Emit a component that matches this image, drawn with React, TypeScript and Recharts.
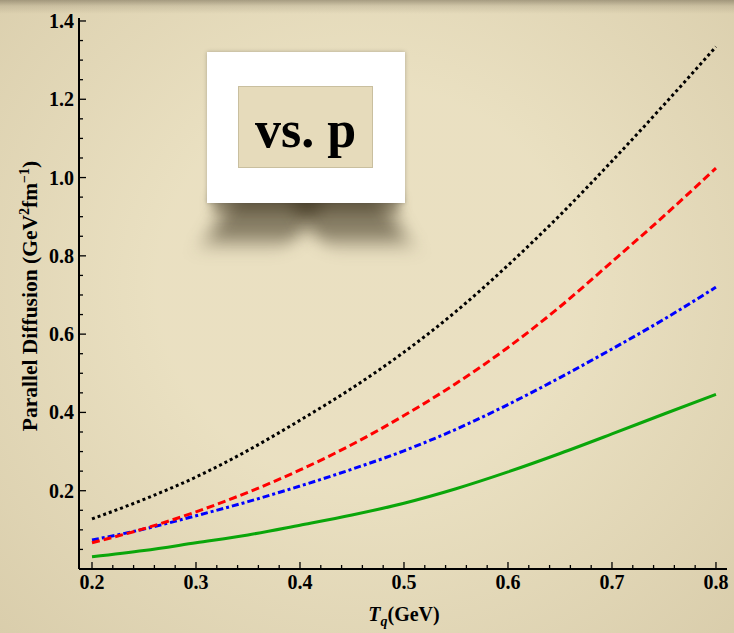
import React from 'react';
import { LineChart, Line, XAxis, YAxis } from 'recharts';

const temps = [0.2, 0.25, 0.3, 0.35, 0.4, 0.45, 0.5, 0.55, 0.6, 0.65, 0.7, 0.75, 0.8];
const blackVals = [0.128, 0.178, 0.235, 0.303, 0.38, 0.462, 0.554, 0.658, 0.776, 0.904, 1.042, 1.186, 1.334];
const redVals = [0.067, 0.103, 0.146, 0.196, 0.253, 0.318, 0.392, 0.474, 0.566, 0.67, 0.785, 0.902, 1.024];
const blueVals = [0.074, 0.102, 0.136, 0.172, 0.212, 0.255, 0.302, 0.357, 0.42, 0.489, 0.562, 0.638, 0.72];
const greenVals = [0.031, 0.047, 0.067, 0.087, 0.112, 0.138, 0.168, 0.205, 0.248, 0.295, 0.345, 0.396, 0.446];

const xMajor = [0.2, 0.3, 0.4, 0.5, 0.6, 0.7, 0.8];
const yMajor = [0.2, 0.4, 0.6, 0.8, 1.0, 1.2, 1.4];
const xTicks = Array.from({ length: 31 }, (_, i) => Math.round(20 + i * 2) / 100);
const yTicks = Array.from({ length: 29 }, (_, i) => Math.round(i * 5) / 100);

const data = temps.map((t, i) => ({
  T: t,
  black: blackVals[i],
  red: redVals[i],
  blue: blueVals[i],
  green: greenVals[i],
}));

const isIn = (v: number, arr: number[]) => arr.some((a) => Math.abs(a - v) < 1e-6);
const FONT = '"Liberation Serif", "Times New Roman", serif';

const BottomTick = (p: any) => {
  const { x, y, payload } = p;
  const v = payload.value;
  const major = isIn(v, xMajor);
  return (
    <g>
      <line x1={x} x2={x} y1={y} y2={y - (major ? 7 : 4)} stroke="#000" strokeWidth={1.3} />
      {major && (
        <text x={x} y={y + 20} textAnchor="middle" fontFamily={FONT} fontWeight="bold" fontSize={20} fill="#000">
          {v.toFixed(1)}
        </text>
      )}
    </g>
  );
};

const TopTick = (p: any) => {
  const { x, y, payload } = p;
  const major = isIn(payload.value, xMajor);
  return <line x1={x} x2={x} y1={y} y2={y + (major ? 7 : 4)} stroke="#000" strokeWidth={1.3} />;
};

const LeftTick = (p: any) => {
  const { x, y, payload } = p;
  const v = payload.value;
  const major = isIn(v, yMajor);
  return (
    <g>
      <line x1={x} x2={x + (major ? 7 : 4)} y1={y} y2={y} stroke="#000" strokeWidth={1.3} />
      {major && (
        <text x={x - 5} y={y + 7} textAnchor="end" fontFamily={FONT} fontWeight="bold" fontSize={20} fill="#000">
          {v.toFixed(1)}
        </text>
      )}
    </g>
  );
};

const RightTick = (p: any) => {
  const { x, y, payload } = p;
  const major = isIn(payload.value, yMajor);
  return <line x1={x} x2={x - (major ? 7 : 4)} y1={y} y2={y} stroke="#000" strokeWidth={1.3} />;
};

const XLabel = () => (
  <text x={404} y={621} textAnchor="middle" fontFamily={FONT} fontWeight="bold" fontSize={20} fill="#000">
    <tspan fontStyle="italic">T</tspan>
    <tspan fontStyle="italic" fontSize={14} dy={5}>q</tspan>
    <tspan dy={-5}>(GeV)</tspan>
  </text>
);

const YLabel = () => (
  <text transform="translate(37,296) rotate(-90)" textAnchor="middle" fontFamily={FONT} fontWeight="bold" fontSize={21.5} fill="#000">
    <tspan>Parallel Diffusion (GeV</tspan>
    <tspan fontSize={14} dy={-8}>2</tspan>
    <tspan dy={8}>fm</tspan>
    <tspan fontSize={14} dy={-8}>−1</tspan>
    <tspan dy={8}>)</tspan>
  </text>
);

const shadowBlob = (left: number, skew: number): React.CSSProperties => ({
  position: 'absolute',
  left,
  top: 192,
  width: 92,
  height: 50,
  background: 'rgba(50,40,20,0.55)',
  filter: 'blur(10px)',
  transform: `skewX(${skew}deg)`,
  borderRadius: 8,
});

export default function App() {
  return (
    <div
      style={{
        position: 'absolute',
        left: 0,
        top: 0,
        width: 734,
        height: 633,
        overflow: 'hidden',
        background: '#e7dcbb',
      }}
    >
      <div
        style={{
          position: 'absolute',
          left: 0,
          top: 0,
          width: 734,
          height: 633,
          background:
            'linear-gradient(to bottom, rgba(90,80,60,0.45) 0px, rgba(90,80,60,0.15) 6px, rgba(0,0,0,0) 14px), radial-gradient(ellipse at 50% 45%, rgba(255,255,240,0.12) 40%, rgba(120,100,60,0.12) 100%)',
        }}
      />
      <div style={{ position: 'absolute', left: 0, top: 0 }}>
        <LineChart width={734} height={633} data={data} margin={{ top: 18, right: 7, bottom: 0, left: 0 }}>
          <XAxis
            xAxisId="b"
            dataKey="T"
            type="number"
            domain={[0.1875, 0.8106]}
            ticks={xTicks}
            interval={0}
            allowDataOverflow
            orientation="bottom"
            height={64}
            tickSize={0}
            tickMargin={0}
            tickLine={false}
            axisLine={{ stroke: '#000', strokeWidth: 2 }}
            tick={<BottomTick />}
            label={{ content: () => <XLabel /> }}
          />
          <XAxis
            xAxisId="t"
            dataKey="T"
            type="number"
            domain={[0.1875, 0.8106]}
            ticks={xTicks}
            interval={0}
            allowDataOverflow
            orientation="top"
            height={0}
            tickSize={0}
            tickMargin={0}
            tickLine={false}
            axisLine={{ stroke: '#000', strokeWidth: 2 }}
            tick={<TopTick />}
          />
          <YAxis
            yAxisId="l"
            type="number"
            domain={[0, 1.4076]}
            ticks={yTicks}
            interval={0}
            allowDataOverflow
            orientation="left"
            width={79}
            tickSize={0}
            tickMargin={0}
            tickLine={false}
            axisLine={{ stroke: '#000', strokeWidth: 2 }}
            tick={<LeftTick />}
            label={{ content: () => <YLabel /> }}
          />
          <YAxis
            yAxisId="r"
            type="number"
            domain={[0, 1.4076]}
            ticks={yTicks}
            interval={0}
            allowDataOverflow
            orientation="right"
            width={0}
            tickSize={0}
            tickMargin={0}
            tickLine={false}
            axisLine={{ stroke: '#000', strokeWidth: 2 }}
            tick={<RightTick />}
          />
          <Line xAxisId="b" yAxisId="l" type="monotone" dataKey="green" stroke="#0aa60a" strokeWidth={3} dot={false} isAnimationActive={false} />
          <Line xAxisId="b" yAxisId="l" type="monotone" dataKey="blue" stroke="#0000ff" strokeWidth={3} strokeDasharray="7 3 3 3" dot={false} isAnimationActive={false} />
          <Line xAxisId="b" yAxisId="l" type="monotone" dataKey="red" stroke="#ff0000" strokeWidth={3} strokeDasharray="8 4" dot={false} isAnimationActive={false} />
          <Line xAxisId="b" yAxisId="l" type="monotone" dataKey="black" stroke="#000000" strokeWidth={3} strokeDasharray="3 3" dot={false} isAnimationActive={false} />
        </LineChart>
      </div>
      {/* shadow under the label card */}
      <div style={shadowBlob(220, -30)} />
      <div style={shadowBlob(302, 30)} />
      <div
        style={{
          position: 'absolute',
          left: 212,
          top: 196,
          width: 188,
          height: 16,
          background: 'rgba(50,40,20,0.45)',
          filter: 'blur(6px)',
        }}
      />
      <div
        style={{
          position: 'absolute',
          left: 207,
          top: 52,
          width: 198,
          height: 151,
          background: '#ffffff',
          boxShadow: '0 0 4px rgba(0,0,0,0.25)',
        }}
      />
      <div
        style={{
          position: 'absolute',
          left: 238,
          top: 86,
          width: 135,
          height: 82,
          background: '#e6dbbb',
          border: '1px solid #c9bf9f',
          boxSizing: 'border-box',
        }}
      />
      <div
        style={{
          position: 'absolute',
          left: 238,
          top: 86,
          width: 135,
          height: 82,
          display: 'flex',
          alignItems: 'center',
          justifyContent: 'center',
          fontFamily: FONT,
          fontSize: 52,
          fontWeight: 'bold',
          lineHeight: '52px',
          color: '#000',
          whiteSpace: 'pre',
        }}
      >
        <span style={{ position: 'relative', top: 3 }}>vs. p</span>
      </div>
    </div>
  );
}
